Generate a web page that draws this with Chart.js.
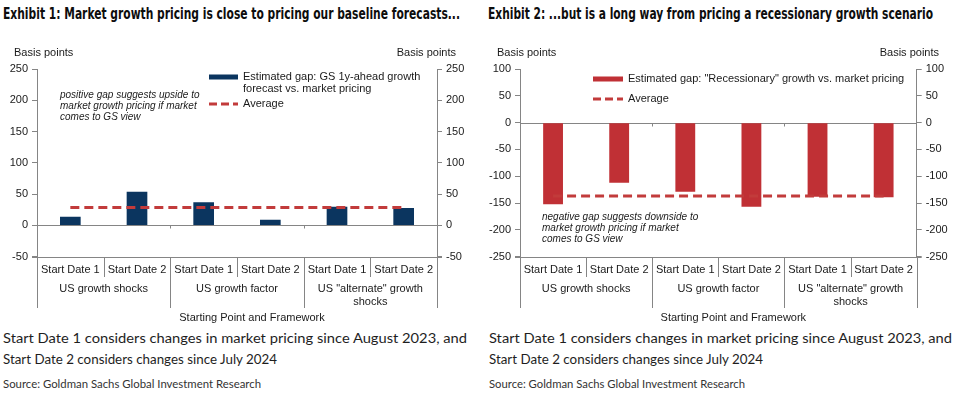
<!DOCTYPE html>
<html><head><meta charset="utf-8">
<script src="https://cdn.jsdelivr.net/npm/chart.js@4"></script>
<style>
html,body{margin:0;padding:0;background:#fff;}
body{width:977px;height:394px;position:relative;overflow:hidden;}
.t{position:absolute;white-space:nowrap;transform-origin:0 50%;color:#111;}
.title{font-family:"Liberation Sans Narrow","DejaVu Sans Condensed",Roboto,sans-serif;font-weight:bold;font-size:15px;line-height:16px;color:#0d0d0d;}
.foot{font-family:Lato,"Noto Sans",sans-serif;font-size:13.5px;line-height:16px;color:#1e1e1e;}
.src{font-family:"Liberation Sans Narrow",Lato,sans-serif;font-size:11.5px;line-height:13px;color:#333;}
canvas{position:absolute;top:0;}
</style></head><body>
<div class="t title" style="left:3px;top:6px" data-w="457">Exhibit 1: Market growth pricing is close to pricing our baseline forecasts...</div>
<div class="t title" style="left:488px;top:6px" data-w="445">Exhibit 2: ...but is a long way from pricing a recessionary growth scenario</div>
<canvas id="c1" width="480" height="330" style="left:0"></canvas>
<canvas id="c2" width="497" height="330" style="left:480px"></canvas>
<div class="t foot" style="left:3px;top:330px" data-w="464">Start Date 1 considers changes in market pricing since August 2023, and</div>
<div class="t foot" style="left:3px;top:351px" data-w="274">Start Date 2 considers changes since July 2024</div>
<div class="t src" style="left:3px;top:377px" data-w="258">Source: Goldman Sachs Global Investment Research</div>
<div class="t foot" style="left:489px;top:330px" data-w="463">Start Date 1 considers changes in market pricing since August 2023, and</div>
<div class="t foot" style="left:489px;top:351px" data-w="274">Start Date 2 considers changes since July 2024</div>
<div class="t src" style="left:489px;top:377px" data-w="256">Source: Goldman Sachs Global Investment Research</div>
<script>
// ---- data ----
const categories = ['Start Date 1','Start Date 2','Start Date 1','Start Date 2','Start Date 1','Start Date 2'];
const groupLabels = [['US growth shocks'],['US growth factor'],['US "alternate" growth','shocks']];
const axisTitle = 'Starting Point and Framework';
const gsGap = [14, 54, 37, 9, 30, 28];
const gsAvg = [28.7, 28.7, 28.7, 28.7, 28.7, 28.7];
const recGap = [-152, -112, -129, -157, -138, -139];
const recAvg = [-137, -137, -137, -137, -137, -137];
const ticks1 = [-50, 0, 50, 100, 150, 200, 250];
const ticks2 = [-250, -200, -150, -100, -50, 0, 50, 100];
const legend1 = [['Estimated gap: GS 1y-ahead growth','forecast vs. market pricing'],['Average']];
const legend2 = [['Estimated gap: "Recessionary" growth vs. market pricing'],['Average']];
const note1 = ['positive gap suggests upside to','market growth pricing if market','comes to GS view'];
const note2 = ['negative gap suggests downside to','market growth pricing if market','comes to GS view'];

const GRAY = '#858585';
const TXT = '#1a1a1a';
const FONT = '"Liberation Sans", Arial, sans-serif';

function decor(o){
  return {
    id:'decor',
    beforeDatasetsDraw(chart){
      const {ctx, chartArea:a, scales} = chart;
      const y0 = Math.round(scales.y.getPixelForValue(0))+0.5;
      ctx.save();
      ctx.strokeStyle = GRAY; ctx.lineWidth = 1;
      ctx.beginPath(); ctx.moveTo(a.left, y0); ctx.lineTo(a.right, y0); ctx.stroke();
      ctx.restore();
    },
    afterDraw(chart){
      const {ctx, chartArea:a, scales} = chart;
      const x = scales.x;
      const px = i => x.getPixelForValue(i);
      const bnd = i => i===0 ? a.left : (i===categories.length ? a.right : (px(i-1)+px(i))/2);
      ctx.save();
      ctx.strokeStyle = GRAY; ctx.lineWidth = 1;
      const yb = Math.round(a.bottom)+0.5;
      // bottom line
      ctx.beginPath(); ctx.moveTo(a.left-5, yb); ctx.lineTo(a.right+5, yb); ctx.stroke();
      // separators
      const y0 = Math.round(scales.y.getPixelForValue(0))+0.5;
      for (let i=0;i<=categories.length;i++){
        const xx = Math.round(bnd(i))+0.5;
        const isGroup = i%2===0;
        ctx.beginPath(); ctx.moveTo(xx, yb); ctx.lineTo(xx, isGroup ? o.groupBottom : o.innerBottom); ctx.stroke();
        if (isGroup && i>0 && i<categories.length){
          ctx.beginPath(); ctx.moveTo(xx, y0); ctx.lineTo(xx, y0+3); ctx.stroke();
        }
      }
      // labels
      ctx.fillStyle = TXT; ctx.textBaseline='middle'; ctx.textAlign='center';
      ctx.font = '11px '+FONT;
      categories.forEach((c,i)=>ctx.fillText(c, px(i), o.catY));
      groupLabels.forEach((g,k)=>{
        const cx = (bnd(2*k)+bnd(2*k+2))/2;
        g.forEach((ln,j)=>ctx.fillText(ln, cx, o.grpY + j*12.5));
      });
      ctx.fillText(axisTitle, (a.left+a.right)/2 + 15, o.titleY);
      // basis points
      ctx.textAlign='left'; ctx.fillText('Basis points', o.bpL, 53);
      ctx.textAlign='right'; ctx.fillText('Basis points', o.bpR, 53);
      // legend
      const L = o.leg;
      ctx.fillStyle = o.barColor; ctx.fillRect(L.sx, L.y1-2.5, L.sw, 5);
      ctx.strokeStyle = o.lineColor; ctx.lineWidth = 3; ctx.setLineDash([8,4]);
      ctx.beginPath(); ctx.moveTo(L.sx, L.y2); ctx.lineTo(L.sx+L.sw, L.y2); ctx.stroke();
      ctx.setLineDash([]);
      ctx.fillStyle = TXT; ctx.textAlign='left';
      o.legend[0].forEach((ln,j)=>ctx.fillText(ln, L.tx, L.y1 + j*11.5));
      ctx.fillText(o.legend[1][0], L.tx, L.y2);
      // note
      ctx.font = 'italic 10px '+FONT;
      o.note.forEach((ln,j)=>ctx.fillText(ln, o.noteX, o.noteY + j*11.2));
      ctx.restore();
    }
  };
}

function makeChart(id, o){
  const mkY = (pos, width) => ({
    type:'linear', position:pos, min:o.ticks[0], max:o.ticks[o.ticks.length-1],
    ticks:{stepSize:50, color:TXT, font:{family:FONT, size:11}, padding:4},
    grid:{display:true, drawOnChartArea:false, drawTicks:true, tickLength:5, color:GRAY},
    border:{display:true, color:GRAY, width:1},
    afterFit(s){ s.width = width; },
    afterBuildTicks(s){ s.ticks = o.ticks.map(v=>({value:v})); }
  });
  return new Chart(document.getElementById(id), {
    type:'bar',
    data:{labels:categories, datasets:[
      {type:'line', data:o.avg, borderColor:o.lineColor, borderWidth:3, borderDash:[9,5], pointRadius:0, fill:false, order:0, yAxisID:'y'},
      {type:'bar', data:o.gap, backgroundColor:o.barColor, barPercentage:o.barPct, categoryPercentage:1, order:1, yAxisID:'y'}
    ]},
    options:{
      responsive:false, animation:false, devicePixelRatio:1,
      layout:{padding:{top:69, bottom:73.3, left:0, right:0}},
      plugins:{legend:{display:false}, tooltip:{enabled:false}, title:{display:false}},
      scales:{
        x:{type:'category', display:false, offset:true},
        y:mkY('left', o.leftW),
        y2:mkY('right', o.rightW)
      }
    },
    plugins:[decor(o)]
  });
}

makeChart('c1', {
  gap:gsGap, avg:gsAvg, ticks:ticks1, barColor:'#0b355f', lineColor:'#c23b3b', barPct:0.31,
  leftW:37, rightW:43, legend:legend1, note:note1,
  leg:{sx:209, sw:29, tx:243, y1:77, y2:104}, noteX:60, noteY:95,
  bpL:14, bpR:456, catY:270, grpY:289, titleY:318, innerBottom:277, groupBottom:308
});
makeChart('c2', {
  gap:recGap, avg:recAvg, ticks:ticks2, barColor:'#c03035', lineColor:'#c23b3b', barPct:0.30,
  leftW:40, rightW:60.3, legend:legend2, note:note2,
  leg:{sx:113, sw:30, tx:148, y1:79, y2:99}, noteX:62, noteY:217,
  bpL:17, bpR:459, catY:270, grpY:289, titleY:318, innerBottom:277, groupBottom:308
});

function fit(){
  document.querySelectorAll('[data-w]').forEach(el=>{
    el.style.transform='none';
    const w = el.getBoundingClientRect().width;
    if (w>0) el.style.transform = 'scaleX(' + (parseFloat(el.dataset.w)/w) + ')';
  });
}
fit();
if (document.fonts && document.fonts.ready) document.fonts.ready.then(fit);
</script>
</body></html>
